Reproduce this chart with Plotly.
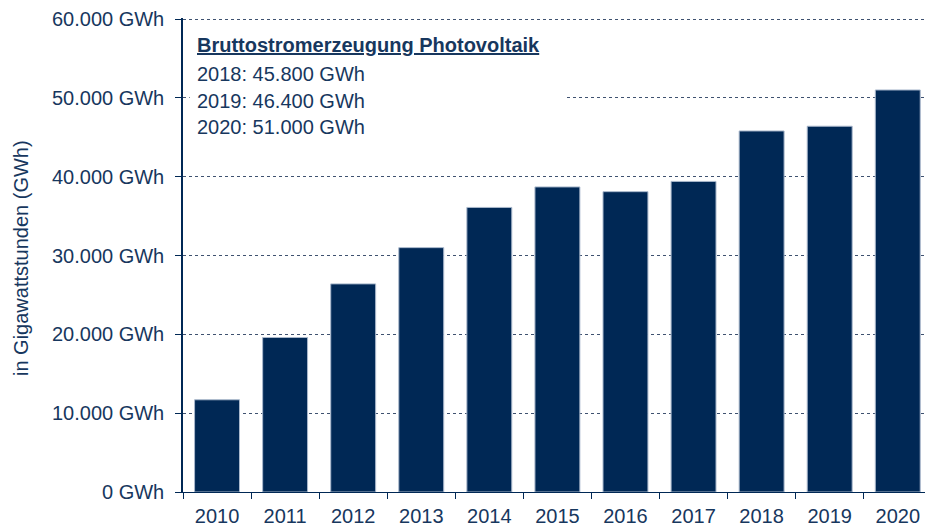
import plotly.graph_objects as go

years = ["2010", "2011", "2012", "2013", "2014", "2015", "2016", "2017", "2018", "2019", "2020"]
gwh = [11700, 19600, 26400, 31000, 36100, 38700, 38100, 39400, 45800, 46400, 51000]
ytick_vals = [0, 10000, 20000, 30000, 40000, 50000, 60000]
ytick_text = ["0 GWh", "10.000 GWh", "20.000 GWh", "30.000 GWh", "40.000 GWh", "50.000 GWh", "60.000 GWh"]
box_title = "Bruttostromerzeugung Photovoltaik"
box_lines = ["2018: 45.800 GWh", "2019: 46.400 GWh", "2020: 51.000 GWh"]

NAVY = "#002855"
TXT = "#17375E"
FONT = "Liberation Sans, Arial, sans-serif"

fig = go.Figure()
fig.add_trace(go.Bar(
    x=years, y=gwh,
    marker=dict(color=NAVY, line=dict(color="#A9B8CC", width=1)),
    width=0.66,
    hoverinfo="x+y",
))

fig.update_layout(
    width=925, height=527,
    margin=dict(l=183, r=0, t=18, b=35),
    paper_bgcolor="white", plot_bgcolor="white",
    font=dict(family=FONT, size=20, color=TXT),
    showlegend=False,
    bargap=0.34,
)
fig.update_xaxes(
    type="category",
    range=[-0.5, 10.4],
    showline=True, linecolor=NAVY, linewidth=1,
    ticks="outside", tickson="boundaries", ticklen=6, tickcolor=NAVY, tickwidth=1,
    showgrid=False,
    tickfont=dict(size=20, color=TXT),
    ticklabelstandoff=6,
)
fig.update_yaxes(
    range=[0, 60130],
    tickvals=ytick_vals, ticktext=ytick_text,
    showline=True, linecolor=NAVY, linewidth=1.5,
    ticks="outside", ticklen=6, tickcolor=NAVY, tickwidth=1,
    showgrid=True, gridcolor="#3F5270", gridwidth=1, griddash="dot",
    zeroline=False,
    tickfont=dict(size=20, color=TXT),
    ticklabelstandoff=7,
)

# white box behind the info text (covers gridlines)
fig.add_shape(type="rect", xref="paper", yref="paper",
              x0=0.009, x1=0.516, y0=0.74, y1=0.978,
              fillcolor="white", line=dict(width=0), layer="above")

fig.add_annotation(xref="paper", yref="paper", x=0.0165, y=0.943,
                   xanchor="left", yanchor="middle", showarrow=False,
                   text="<b><u>" + box_title + "</u></b>",
                   font=dict(size=20, color=TXT, family=FONT))
for line, yp in zip(box_lines, [0.882, 0.825, 0.770]):
    fig.add_annotation(xref="paper", yref="paper", x=0.0165, y=yp,
                       xanchor="left", yanchor="middle", showarrow=False,
                       text=line, font=dict(size=20, color=TXT, family=FONT))

# y-axis title
fig.add_annotation(xref="paper", yref="paper", x=(21 - 183) / 742, y=(492 - 258) / 474,
                   xanchor="center", yanchor="middle", showarrow=False,
                   text="in Gigawattstunden (GWh)", textangle=-90,
                   font=dict(size=20, color=TXT, family=FONT))

fig.write_html("out.html",
               config={"displayModeBar": False},
               post_script="document.body.style.margin='0';document.body.style.overflow='hidden';")
